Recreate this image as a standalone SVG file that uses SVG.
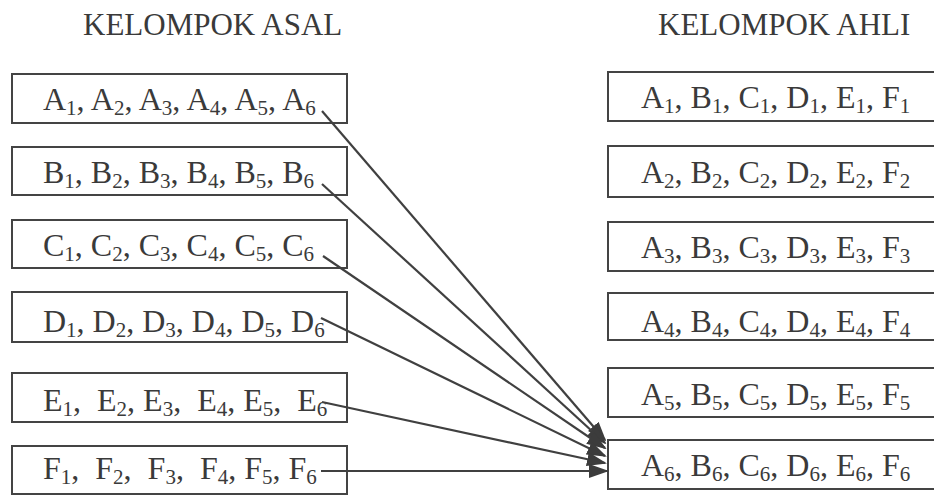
<svg xmlns="http://www.w3.org/2000/svg" width="934" height="497" viewBox="0 0 934 497">
  <defs>
    <style>
      .title { font-family: "Liberation Serif", "Times New Roman", serif; font-size: 31px; fill: #3a3a3a; }
      .t { font-family: "Liberation Serif", "Times New Roman", serif; font-size: 32px; fill: #3a3a3a; white-space: pre; }
      .s { font-size: 21px; }
      .box { fill: #ffffff; stroke: #444444; stroke-width: 2; }
      .link { fill: none; stroke: #404040; stroke-width: 2.2; marker-end: url(#head); }
    </style>
    <marker id="head" viewBox="0 0 20 14" refX="18" refY="7" markerWidth="20" markerHeight="14" markerUnits="userSpaceOnUse" orient="auto">
      <path d="M0,0 L20,7 L0,14 z" fill="#3c3c3c"/>
    </marker>
  </defs>
  <rect width="934" height="497" fill="#ffffff"/>

  <!-- column headings -->
  <text class="title" x="83" y="35">KELOMPOK ASAL</text>
  <text class="title" x="658" y="35">KELOMPOK AHLI</text>

  <!-- home groups -->
  <g id="asal-a">
    <rect class="box" x="12" y="74" width="335" height="49"/>
    <text class="t" x="43" y="110">A<tspan class="s" dy="5">1</tspan><tspan dy="-5">, A</tspan><tspan class="s" dy="5">2</tspan><tspan dy="-5">, A</tspan><tspan class="s" dy="5">3</tspan><tspan dy="-5">, A</tspan><tspan class="s" dy="5">4</tspan><tspan dy="-5">, A</tspan><tspan class="s" dy="5">5</tspan><tspan dy="-5">, A</tspan><tspan class="s" dy="5">6</tspan></text>
  </g>
  <g id="asal-b">
    <rect class="box" x="12" y="147" width="335" height="48"/>
    <text class="t" x="43" y="183">B<tspan class="s" dy="5">1</tspan><tspan dy="-5">, B</tspan><tspan class="s" dy="5">2</tspan><tspan dy="-5">, B</tspan><tspan class="s" dy="5">3</tspan><tspan dy="-5">, B</tspan><tspan class="s" dy="5">4</tspan><tspan dy="-5">, B</tspan><tspan class="s" dy="5">5</tspan><tspan dy="-5">, B</tspan><tspan class="s" dy="5">6</tspan></text>
  </g>
  <g id="asal-c">
    <rect class="box" x="12" y="220" width="335" height="48"/>
    <text class="t" x="43" y="256">C<tspan class="s" dy="5">1</tspan><tspan dy="-5">, C</tspan><tspan class="s" dy="5">2</tspan><tspan dy="-5">, C</tspan><tspan class="s" dy="5">3</tspan><tspan dy="-5">, C</tspan><tspan class="s" dy="5">4</tspan><tspan dy="-5">, C</tspan><tspan class="s" dy="5">5</tspan><tspan dy="-5">, C</tspan><tspan class="s" dy="5">6</tspan></text>
  </g>
  <g id="asal-d">
    <rect class="box" x="12" y="292" width="335" height="50"/>
    <text class="t" x="43" y="332">D<tspan class="s" dy="5">1</tspan><tspan dy="-5">, D</tspan><tspan class="s" dy="5">2</tspan><tspan dy="-5">, D</tspan><tspan class="s" dy="5">3</tspan><tspan dy="-5">, D</tspan><tspan class="s" dy="5">4</tspan><tspan dy="-5">, D</tspan><tspan class="s" dy="5">5</tspan><tspan dy="-5">, D</tspan><tspan class="s" dy="5">6</tspan></text>
  </g>
  <g id="asal-e">
    <rect class="box" x="12" y="373" width="335" height="49"/>
    <text class="t" x="43" y="411">E<tspan class="s" dy="5">1</tspan><tspan dy="-5">,  E</tspan><tspan class="s" dy="5">2</tspan><tspan dy="-5">, E</tspan><tspan class="s" dy="5">3</tspan><tspan dy="-5">,  E</tspan><tspan class="s" dy="5">4</tspan><tspan dy="-5">, E</tspan><tspan class="s" dy="5">5</tspan><tspan dy="-5">,  E</tspan><tspan class="s" dy="5">6</tspan></text>
  </g>
  <g id="asal-f">
    <rect class="box" x="12" y="446" width="335" height="48"/>
    <text class="t" x="43" y="479">F<tspan class="s" dy="5">1</tspan><tspan dy="-5">,  F</tspan><tspan class="s" dy="5">2</tspan><tspan dy="-5">,  F</tspan><tspan class="s" dy="5">3</tspan><tspan dy="-5">,  F</tspan><tspan class="s" dy="5">4</tspan><tspan dy="-5">, F</tspan><tspan class="s" dy="5">5</tspan><tspan dy="-5">, F</tspan><tspan class="s" dy="5">6</tspan></text>
  </g>

  <!-- expert groups (boxes run off the right edge) -->
  <g id="ahli-1">
    <rect class="box" x="608" y="72" width="340" height="49"/>
    <text class="t" x="641" y="108">A<tspan class="s" dy="5">1</tspan><tspan dy="-5">, B</tspan><tspan class="s" dy="5">1</tspan><tspan dy="-5">, C</tspan><tspan class="s" dy="5">1</tspan><tspan dy="-5">, D</tspan><tspan class="s" dy="5">1</tspan><tspan dy="-5">, E</tspan><tspan class="s" dy="5">1</tspan><tspan dy="-5">, F</tspan><tspan class="s" dy="5">1</tspan></text>
  </g>
  <g id="ahli-2">
    <rect class="box" x="608" y="146" width="340" height="51"/>
    <text class="t" x="641" y="183">A<tspan class="s" dy="5">2</tspan><tspan dy="-5">, B</tspan><tspan class="s" dy="5">2</tspan><tspan dy="-5">, C</tspan><tspan class="s" dy="5">2</tspan><tspan dy="-5">, D</tspan><tspan class="s" dy="5">2</tspan><tspan dy="-5">, E</tspan><tspan class="s" dy="5">2</tspan><tspan dy="-5">, F</tspan><tspan class="s" dy="5">2</tspan></text>
  </g>
  <g id="ahli-3">
    <rect class="box" x="608" y="222" width="340" height="49"/>
    <text class="t" x="641" y="258">A<tspan class="s" dy="5">3</tspan><tspan dy="-5">, B</tspan><tspan class="s" dy="5">3</tspan><tspan dy="-5">, C</tspan><tspan class="s" dy="5">3</tspan><tspan dy="-5">, D</tspan><tspan class="s" dy="5">3</tspan><tspan dy="-5">, E</tspan><tspan class="s" dy="5">3</tspan><tspan dy="-5">, F</tspan><tspan class="s" dy="5">3</tspan></text>
  </g>
  <g id="ahli-4">
    <rect class="box" x="608" y="293" width="340" height="47"/>
    <text class="t" x="641" y="332">A<tspan class="s" dy="5">4</tspan><tspan dy="-5">, B</tspan><tspan class="s" dy="5">4</tspan><tspan dy="-5">, C</tspan><tspan class="s" dy="5">4</tspan><tspan dy="-5">, D</tspan><tspan class="s" dy="5">4</tspan><tspan dy="-5">, E</tspan><tspan class="s" dy="5">4</tspan><tspan dy="-5">, F</tspan><tspan class="s" dy="5">4</tspan></text>
  </g>
  <g id="ahli-5">
    <rect class="box" x="608" y="368" width="340" height="49"/>
    <text class="t" x="641" y="405">A<tspan class="s" dy="5">5</tspan><tspan dy="-5">, B</tspan><tspan class="s" dy="5">5</tspan><tspan dy="-5">, C</tspan><tspan class="s" dy="5">5</tspan><tspan dy="-5">, D</tspan><tspan class="s" dy="5">5</tspan><tspan dy="-5">, E</tspan><tspan class="s" dy="5">5</tspan><tspan dy="-5">, F</tspan><tspan class="s" dy="5">5</tspan></text>
  </g>
  <g id="ahli-6">
    <rect class="box" x="608" y="440" width="340" height="49"/>
    <text class="t" x="641" y="476">A<tspan class="s" dy="5">6</tspan><tspan dy="-5">, B</tspan><tspan class="s" dy="5">6</tspan><tspan dy="-5">, C</tspan><tspan class="s" dy="5">6</tspan><tspan dy="-5">, D</tspan><tspan class="s" dy="5">6</tspan><tspan dy="-5">, E</tspan><tspan class="s" dy="5">6</tspan><tspan dy="-5">, F</tspan><tspan class="s" dy="5">6</tspan></text>
  </g>

  <!-- each member 6 moves to expert group 6 -->
  <g id="connectors">
    <line class="link" x1="322" y1="111" x2="605" y2="440"/>
    <line class="link" x1="322" y1="184" x2="605" y2="443"/>
    <line class="link" x1="323" y1="256" x2="605" y2="448"/>
    <line class="link" x1="321" y1="318" x2="605" y2="456"/>
    <line class="link" x1="322" y1="402" x2="605" y2="463"/>
    <line class="link" x1="321" y1="471" x2="607" y2="471"/>
  </g>
</svg>
